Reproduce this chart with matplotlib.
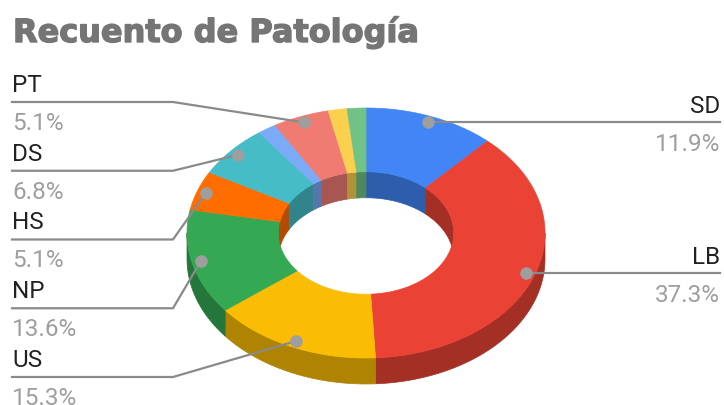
import numpy as np
import matplotlib.pyplot as plt
from matplotlib.patches import Polygon
from matplotlib import patheffects as pe
import matplotlib.colors as mcolors

# data (counts, total 59)
labels = ["SD", "LB", "US", "NP", "HS", "DS", "", "PT", "", ""]
counts = [7, 22, 9, 8, 3, 4, 1, 3, 1, 1]
colors = ["#4285F4", "#EA4335", "#FBBC04", "#34A853", "#FF6D01",
          "#46BDC6", "#7BAAF7", "#F07B72", "#FCD04F", "#71C287"]
title = "Recuento de Patología"

# 3D donut geometry (pixels)
CX, CY = 366, 234
RX, RY = 179, 125
HOLE = 0.49
DEPTH = 26


def shade(c, f=0.7):
    r, g, b = mcolors.to_rgb(c)
    return (r * f, g * f, b * f)


def arc(a0, a1, r, dz=0, n=60):
    t = np.radians(np.linspace(a0, a1, max(2, int(n * (a1 - a0) / 90) + 2)))
    return np.column_stack([CX + r * RX * np.sin(t), CY - r * RY * np.cos(t) + dz])


def clip(a0, a1, lo, hi):
    s, e = max(a0, lo), min(a1, hi)
    return (s, e) if e > s else None


fig = plt.figure(figsize=(7.24, 4.06), dpi=100)
ax = fig.add_axes([0, 0, 1, 1])
ax.set_xlim(0, 724)
ax.set_ylim(406, 0)
ax.axis("off")

total = sum(counts)
bounds = np.concatenate([[0], np.cumsum(counts)]) / total * 360

# inner walls, back half
for i, c in enumerate(colors):
    for lo, hi in [(0, 90), (270, 360)]:
        seg = clip(bounds[i], bounds[i + 1], lo, hi)
        if seg:
            top = arc(seg[0], seg[1], HOLE)
            bot = arc(seg[0], seg[1], HOLE, DEPTH)[::-1]
            ax.add_patch(Polygon(np.vstack([top, bot]), closed=True, fc=shade(c),
                                 ec=shade(c), lw=0.5, zorder=1))

# outer walls, front half
for i, c in enumerate(colors):
    seg = clip(bounds[i], bounds[i + 1], 90, 270)
    if seg:
        top = arc(seg[0], seg[1], 1)
        bot = arc(seg[0], seg[1], 1, DEPTH)[::-1]
        ax.add_patch(Polygon(np.vstack([top, bot]), closed=True, fc=shade(c),
                             ec=shade(c), lw=0.5, zorder=2))

# top faces
for i, c in enumerate(colors):
    outer = arc(bounds[i], bounds[i + 1], 1)
    inner = arc(bounds[i], bounds[i + 1], HOLE)[::-1]
    ax.add_patch(Polygon(np.vstack([outer, inner]), closed=True, fc=c, ec=c,
                         lw=0.5, zorder=3))

# labels
font = dict(family=["Roboto", "DejaVu Sans"], fontsize=17.5)
line_c, dot_c = "#8a8a8a", "#9e9e9e"
mids = (bounds[:-1] + bounds[1:]) / 2
right = [i for i in range(len(labels)) if labels[i] and mids[i] < 180]
left = [i for i in range(len(labels)) if labels[i] and mids[i] >= 180][::-1]

for i in right:
    dx, dy = arc(mids[i], mids[i], 0.95)[0]
    ax.plot([dx, 720], [dy, dy], color=line_c, lw=1.6, zorder=4)
    ax.plot(dx, dy, "o", ms=8, color=dot_c, zorder=5)
    ax.text(720, dy - 10, labels[i], ha="right", va="baseline", color="#212121", **font)
    ax.text(720, dy + 28, f"{counts[i] / total * 100:.1f}%", ha="right",
            va="baseline", color="#9e9e9e", **font)

ys = np.linspace(103, 378, len(left))
for y, i in zip(ys, left):
    dx, dy = arc(mids[i], mids[i], 0.95)[0]
    ax.plot([12, 173, dx], [y, y, dy], color=line_c, lw=1.6, zorder=4)
    ax.plot(dx, dy, "o", ms=8, color=dot_c, zorder=5)
    ax.text(12, y - 11, labels[i], ha="left", va="baseline", color="#212121", **font)
    ax.text(12, y + 27, f"{counts[i] / total * 100:.1f}%", ha="left",
            va="baseline", color="#9e9e9e", **font)

ax.text(13, 43, title, ha="left", va="baseline", color="#757575",
        family=["DejaVu Sans"], fontweight="bold", fontsize=23,
        path_effects=[pe.withStroke(linewidth=1.0, foreground="#757575")])

fig.savefig("out.png", dpi=100)
